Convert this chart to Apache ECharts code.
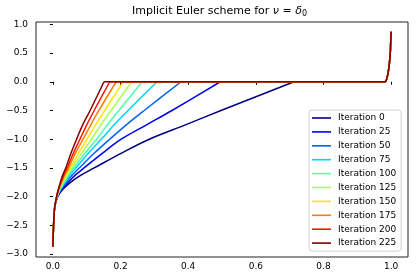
<!DOCTYPE html>
<html><head><meta charset="utf-8">
<script src="https://cdn.jsdelivr.net/npm/echarts@6/dist/echarts.min.js"></script>
<style>html,body{margin:0;padding:0;background:#fff}#c{width:416px;height:280px}</style>
</head><body><div id="c"></div>
<script>
// ---- data ----
const iterations = [0, 25, 50, 75, 100, 125, 150, 175, 200, 225];
const colors = ['#000080', '#0000f1', '#0063ff', '#00d4ff', '#4dffaa', '#aaff4d', '#ffe600', '#ff7d00', '#ff1400', '#800000'];
// y levels at which each curve's x position was read
const yLevels = [-2.87, -2.7, -2.5, -2.2, -2.0, -1.875, -1.75, -1.625, -1.5, -1.25, -1.0, -0.75, -0.5, 0];
const xIter0   = [0, 0.0007, 0.002, 0.005, 0.014, 0.029, 0.052, 0.083, 0.122, 0.200, 0.285, 0.392, 0.497, 0.713];
const xIter25  = [0, 0.0007, 0.002, 0.005, 0.013, 0.026, 0.045, 0.066, 0.092, 0.145, 0.202, 0.277, 0.352, 0.495];
const xIter50  = [0, 0.0007, 0.002, 0.005, 0.0125, 0.024, 0.040, 0.057, 0.078, 0.121, 0.168, 0.217, 0.270, 0.379];
const xIter75  = [0, 0.0007, 0.002, 0.005, 0.012, 0.022, 0.036, 0.050, 0.068, 0.104, 0.143, 0.181, 0.222, 0.308];
const xIter100 = [0, 0.0007, 0.002, 0.005, 0.012, 0.021, 0.033, 0.046, 0.062, 0.094, 0.129, 0.161, 0.195, 0.264];
const xIter125 = [0, 0.0007, 0.002, 0.005, 0.0115, 0.019, 0.030, 0.042, 0.056, 0.084, 0.114, 0.142, 0.172, 0.233];
const xIter150 = [0, 0.0007, 0.002, 0.005, 0.0115, 0.018, 0.028, 0.038, 0.051, 0.075, 0.101, 0.126, 0.153, 0.208];
const xIter175 = [0, 0.0007, 0.002, 0.005, 0.011, 0.017, 0.026, 0.035, 0.046, 0.066, 0.089, 0.112, 0.136, 0.187];
const xIter200 = [0, 0.0007, 0.002, 0.005, 0.011, 0.0165, 0.024, 0.032, 0.042, 0.060, 0.080, 0.100, 0.122, 0.168];
const xIter225 = [0, 0.0007, 0.002, 0.005, 0.011, 0.016, 0.022, 0.029, 0.038, 0.053, 0.070, 0.088, 0.110, 0.151];
// common right-hand tail (flat at 0, then sharp rise near x = 1)
const tailX = [0.983, 0.987, 0.991, 0.995, 0.998, 1.0];
const tailY = [0, 0.05, 0.15, 0.32, 0.55, 0.87];
const xTicks = [0, 0.2, 0.4, 0.6, 0.8, 1.0];
const yTicks = [-3.0, -2.5, -2.0, -1.5, -1.0, -0.5, 0.0, 0.5, 1.0];

const xByIter = [xIter0, xIter25, xIter50, xIter75, xIter100, xIter125, xIter150, xIter175, xIter200, xIter225];

const FONT = 'DejaVu Sans';
const fmt = v => v.toFixed(1).replace('-', '\u2212');

const series = [];
iterations.forEach((it, k) => {
  const name = 'Iteration ' + it;
  const rise = yLevels.map((y, i) => [xByIter[k][i], y]);
  const flat = [rise[rise.length - 1]];
  tailX.forEach((x, j) => flat.push([x, tailY[j]]));
  const base = {
    name: name, type: 'line', symbol: 'none',
    lineStyle: {color: colors[k], width: 1.5, join: 'round'},
    itemStyle: {color: colors[k]},
    emphasis: {disabled: true}, animation: false
  };
  series.push(Object.assign({}, base, {data: rise, smooth: 0.35}));
  series.push(Object.assign({}, base, {data: flat, smooth: 0.2}));
});

const chart = echarts.init(document.getElementById('c'), null, {renderer: 'canvas'});
chart.setOption({
  animation: false,
  backgroundColor: '#fff',
  title: {
    text: 'Implicit Euler scheme for {m|ν} = {m|δ}{s|0}',
    left: 132, top: 4, padding: 0,
    textStyle: {
      fontFamily: FONT, fontSize: 11, fontWeight: 'normal', color: '#000', lineHeight: 14,
      rich: {
        m: {fontFamily: FONT, fontSize: 11, fontStyle: 'italic', color: '#000', lineHeight: 14},
        s: {fontFamily: FONT, fontSize: 8, color: '#000', lineHeight: 8, verticalAlign: 'bottom'}
      }
    }
  },
  grid: {left: 36, right: 8, top: 22, bottom: 23, show: true, borderColor: '#222', borderWidth: 1, backgroundColor: 'transparent'},
  legend: {
    orient: 'vertical',
    left: 309, top: 110,
    padding: [3, 5, 3, 3],
    icon: 'rect',
    itemWidth: 19, itemHeight: 1.6, itemGap: 3.9,
    backgroundColor: 'rgba(255,255,255,0.8)',
    borderColor: '#d0d0d0', borderWidth: 1, borderRadius: 3,
    textStyle: {fontFamily: FONT, fontSize: 9, color: '#000', lineHeight: 10, padding: [0, 0, 0, 2]},
    data: iterations.map(it => 'Iteration ' + it)
  },
  xAxis: {
    type: 'value', min: -0.05, max: 1.05,
    axisLine: {show: false},
    axisTick: {show: true, length: 3, lineStyle: {color: '#000'}, customValues: xTicks},
    axisLabel: {fontFamily: FONT, fontSize: 9, color: '#000', margin: 5, formatter: fmt, customValues: xTicks},
    splitLine: {show: false}
  },
  yAxis: {
    type: 'value', min: -3.05, max: 1.04,
    axisLine: {show: false},
    axisTick: {show: true, length: 3, lineStyle: {color: '#000'}, customValues: yTicks},
    axisLabel: {fontFamily: FONT, fontSize: 9, color: '#000', margin: 8, formatter: fmt, customValues: yTicks},
    splitLine: {show: false}
  },
  series: series
});
</script></body></html>
